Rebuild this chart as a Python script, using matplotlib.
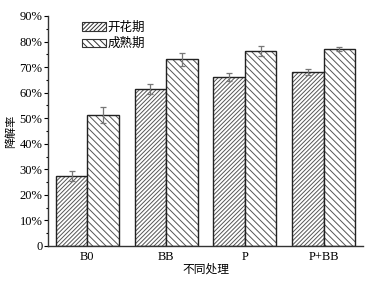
import matplotlib
matplotlib.use("Agg")
import matplotlib.pyplot as plt
import numpy as np
from matplotlib.ticker import MultipleLocator, FuncFormatter
from matplotlib.patches import Patch

categories = ["B0", "BB", "P", "P+BB"]
series_names = ["开花期", "成熟期"]
flowering = [27.4, 61.4, 66.0, 68.1]
flowering_err = [2.0, 1.8, 1.6, 1.3]
mature = [51.2, 73.0, 76.3, 77.0]
mature_err = [3.1, 2.4, 2.0, 0.7]

plt.rcParams['font.family'] = ['Liberation Serif', 'Noto Sans CJK SC']
plt.rcParams['hatch.linewidth'] = 0.7
plt.rcParams['hatch.color'] = '#555555'

fig = plt.figure(figsize=(3.76, 2.82), dpi=100)
ax = fig.add_axes([48/376, 36/282, 315/376, 230/282])

x = np.arange(len(categories))
w = 0.4
hatches = ['////////', '\\\\\\\\\\']
for i, (vals, errs, h) in enumerate([(flowering, flowering_err, hatches[0]), (mature, mature_err, hatches[1])]):
    pos = x + (i - 0.5) * w
    ax.bar(pos, vals, w, color='white', hatch=h, edgecolor='#555555', linewidth=0)
    ax.bar(pos, vals, w, fill=False, edgecolor='#222222', linewidth=1.0)
    ax.errorbar(pos, vals, yerr=errs, fmt='none', ecolor='#777777', elinewidth=0.9, capsize=2.5, capthick=0.9)

handles = [Patch(facecolor='white', edgecolor='#333333', hatch=hatches[0], linewidth=0.8),
           Patch(facecolor='white', edgecolor='#333333', hatch=hatches[1], linewidth=0.8)]
ax.legend(handles, series_names, loc='upper left', bbox_to_anchor=((82-48)/315, 0.978),
          frameon=False, borderpad=0, borderaxespad=0,
          handlelength=1.9, handleheight=0.65, handletextpad=0.15, labelspacing=0.25,
          prop={'family': ['Noto Sans CJK SC'], 'size': 9})

ax.set_xlim(-0.5, 3.5)
ax.set_ylim(0, 90)
ax.yaxis.set_major_locator(MultipleLocator(10))
ax.yaxis.set_minor_locator(MultipleLocator(5))
ax.yaxis.set_major_formatter(FuncFormatter(lambda v, p: "0" if v == 0 else f"{int(round(v))}%"))
ax.set_xticks(x)
ax.set_xticklabels(categories)
ax.tick_params(axis='x', length=0, labelsize=9, pad=3.5)
ax.tick_params(axis='y', which='major', direction='out', length=3, width=0.8, labelsize=9, pad=1)
ax.tick_params(axis='y', which='minor', direction='out', length=1.8, width=0.8)
for s in ['top', 'right']:
    ax.spines[s].set_visible(False)
for s in ['left', 'bottom']:
    ax.spines[s].set_linewidth(1.0)
    ax.spines[s].set_color('#333333')

ax.set_xlabel("不同处理", family=['Noto Sans CJK SC'], fontsize=8.5, labelpad=0)
ax.set_ylabel("降解率", family=['Noto Sans CJK SC'], fontsize=8, labelpad=2.5)

fig.savefig("out.png", dpi=100)
